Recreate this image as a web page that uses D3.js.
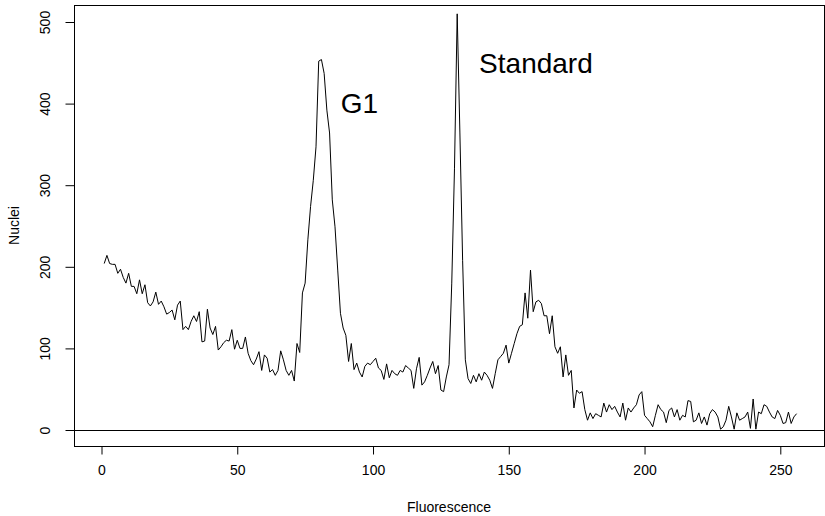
<!DOCTYPE html>
<html>
<head>
<meta charset="utf-8">
<script src="https://cdn.jsdelivr.net/npm/d3@7"></script>
<style>
body{margin:0;background:#fff}
text{font-family:"Liberation Sans",Arial,sans-serif;fill:#000}
</style>
</head>
<body>
<script>
// channel number (x) and nuclei count (y)
var channels = d3.range(1, 257)
var nuclei = [
204,214,204,203,203,192,197,187,180,192,
176,176,167,184,167,178,156,152,157,169,
154,158,151,142,144,147,135,153,158,123,
127,123,133,140,133,145,108,109,148,125,
117,127,98,102,107,110,109,123,99,110,
100,100,114,94,85,80,87,96,73,92,
88,71,74,67,73,97,86,73,67,73,
60,106,95,168,180,233,274,306,347,452,
454,437,392,364,282,249,196,143,125,116,
84,106,74,82,71,65,78,82,80,84,
88,76,73,62,81,64,73,69,67,73,
71,79,76,73,51,75,89,55,59,67,
76,84,69,79,49,47,65,80,180,320,
510,364,208,86,63,57,67,59,69,61,
71,67,61,51,69,86,90,94,104,82,
94,106,118,127,129,168,137,196,145,157,
159,155,140,140,118,140,102,94,102,65,
92,67,73,27,49,45,47,25,12,21,
14,20,18,16,33,22,31,25,29,22,
16,33,12,27,22,27,31,43,47,18,
14,10,4,18,31,25,22,9,24,27,
16,25,12,18,16,36,35,10,12,21,
8,16,6,20,25,22,16,1,4,12,
29,16,1,21,12,14,16,22,2,38,
1,22,20,31,29,22,16,14,24,18,
8,9,22,8,16,20]

var xTicks = [0,50,100,150,200,250]
var yTicks = [0,100,200,300,400,500]

// peak annotations (centre of text, data units)
var peakNames = ["G1","Standard"]
var peakX = [95,160]
var peakY = [400,449]

var width = 825, height = 516
var box = {left:74, right:824, top:5, bottom:446}

var svg = d3.select("body").append("svg")
	.attr("width", width)
	.attr("height", height)

var x = d3.scaleLinear().domain([0,250]).range([101.5,780.3])
var y = d3.scaleLinear().domain([0,500]).range([430,22])

//plot box
svg.append("rect")
	.attr("x", box.left+0.5)
	.attr("y", box.top+0.5)
	.attr("width", box.right-box.left)
	.attr("height", box.bottom-box.top)
	.attr("fill","none")
	.attr("stroke","#000")
	.attr("stroke-width",1)

//x axis
var xa = svg.append("g")
	.attr("transform","translate(0,"+(box.bottom+0.5)+")")
	.call(d3.axisBottom(x).tickValues(xTicks).tickSize(8).tickPadding(11).tickFormat(d3.format("d")))
xa.select(".domain").remove()
xa.selectAll("text").attr("font-size","14px")

//y axis, labels turned like R does
var ya = svg.append("g")
	.attr("transform","translate("+(box.left+0.5)+",0)")
	.call(d3.axisLeft(y).tickValues(yTicks).tickSize(9).tickFormat(d3.format("d")))
ya.select(".domain").remove()
ya.selectAll("text")
	.attr("font-size","14px")
	.attr("text-anchor","middle")
	.attr("x",0)
	.attr("y",0)
	.attr("dy",null)
	.attr("transform","translate(-25,0) rotate(-90)")

//horizontal line at zero
svg.append("line")
	.attr("x1",box.left).attr("x2",box.right)
	.attr("y1",y(0)+0.5).attr("y2",y(0)+0.5)
	.attr("stroke","#000")

//histogram line
var line = d3.line()
	.x(function(d,i){ return x(channels[i]) })
	.y(function(d){ return y(d) })
svg.append("path")
	.datum(nuclei)
	.attr("d", line)
	.attr("fill","none")
	.attr("stroke","#000")
	.attr("stroke-width",1)
	.attr("stroke-linejoin","round")

//peak labels
for (var i=0;i<peakNames.length;i++){
	svg.append("text")
		.attr("x", x(peakX[i]))
		.attr("y", y(peakY[i]))
		.attr("dy","0.35em")
		.attr("text-anchor","middle")
		.attr("font-size","28px")
		.text(peakNames[i])
}

//axis titles
svg.append("text")
	.attr("x",(box.left+box.right)/2)
	.attr("y",512)
	.attr("text-anchor","middle")
	.attr("font-size","14px")
	.text("Fluorescence")
svg.append("text")
	.attr("transform","translate(19,"+((box.top+box.bottom)/2)+") rotate(-90)")
	.attr("text-anchor","middle")
	.attr("font-size","14px")
	.text("Nuclei")
</script>
</body>
</html>
